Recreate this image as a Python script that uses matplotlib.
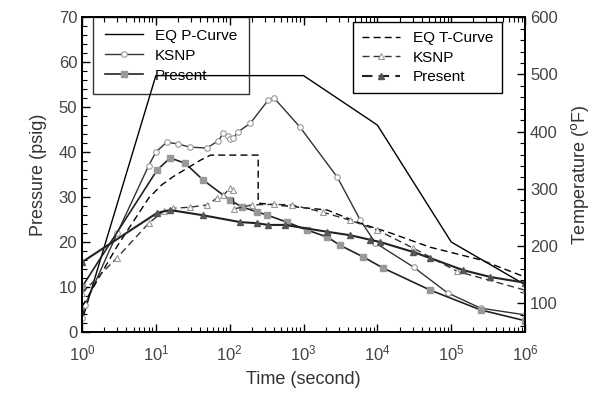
import matplotlib
matplotlib.use("Agg")
import matplotlib.pyplot as plt
from matplotlib.ticker import MultipleLocator, LogLocator, NullFormatter

plt.rcParams['font.family'] = ['Liberation Sans', 'DejaVu Sans']

# pressure curves (psig) vs time (s)
eq_p_t = [1, 10, 1000, 1e4, 1e5, 1e6]
eq_p = [2.5, 57, 57, 46, 20, 10.5]

ksnp_p_t = [1, 1.1, 3, 8, 10, 14, 20, 29, 49, 70, 82, 95, 101, 111, 130, 190, 330, 400,
            890, 2870, 5850, 9400, 31000, 89000, 2.5e5, 1e6]
ksnp_p = [3, 6, 22, 37, 40, 42.2, 41.8, 41.1, 40.9, 42.5, 44.2, 43.5, 42.8, 43.1, 44.5, 46.4,
          51.5, 52, 45.6, 34.4, 24.9, 19.8, 14.4, 8.7, 5.3, 3.8]

pres_p_t = [1, 10.4, 15.6, 25, 43.6, 101, 147, 235, 320, 600, 1100, 2100, 3100, 6400,
            12000, 52000, 2.5e5, 1e6]
pres_p = [10, 36, 38.7, 37.5, 33.8, 29.3, 27.8, 26.7, 26, 24.4, 22.7, 21.1, 19.3, 16.7,
          14.2, 9.3, 4.9, 2.5]

# temperature curves (F) vs time (s)
eq_t_t = [1, 3, 8, 12, 17, 40, 55, 243, 243, 500, 2100, 5800, 15000, 52000, 2.5e5, 1e6]
eq_t = [94, 200, 284, 307, 321, 350, 359, 359, 275, 271, 263, 240, 223, 198, 176, 146]

ksnp_t_t = [1, 3, 8, 13, 17, 29, 50, 67, 82, 101, 110, 115, 200, 400, 700, 1860, 4300,
            10000, 30000, 1.2e5, 1e6]
ksnp_t = [118, 180, 240, 262, 266, 268, 272, 284, 289, 301, 298, 265, 272, 273, 272, 259,
          245, 228, 197, 156, 123]

pres_t_t = [1, 10.4, 15.6, 43, 138, 235, 330, 560, 2100, 4300, 8000, 11000, 30000, 52000,
            1.45e5, 3.4e5, 1e6]
pres_t = [172, 258, 263, 254, 242, 240, 237, 237, 225, 219, 211, 207, 190, 179, 158, 146, 136]

fig = plt.figure(figsize=(6.12, 3.99), dpi=100)
ax = fig.add_axes([0.134, 0.168, 0.724, 0.789])
ax2 = ax.twinx()

# pressure
l1, = ax.plot(eq_p_t, eq_p, color='black', lw=1.0, label='EQ P-Curve')
l2, = ax.plot(ksnp_p_t, ksnp_p, color='#333333', lw=1.0, marker='o', ms=4,
              mfc='white', mec='#999999', mew=0.8, label='KSNP')
l3, = ax.plot(pres_p_t, pres_p, color='#222222', lw=1.2, marker='s', ms=4,
              mfc='#999999', mec='#999999', label='Present')

# temperature
t1, = ax2.plot(eq_t_t, eq_t, color='black', lw=1.0, ls=(0, (5, 3)), label='EQ T-Curve')
t2, = ax2.plot(ksnp_t_t, ksnp_t, color='#333333', lw=1.0, ls=(0, (5, 3)), marker='^', ms=4,
               mfc='white', mec='#999999', mew=0.8, label='KSNP')
t3, = ax2.plot(pres_t_t, pres_t, color='#222222', lw=1.5, ls='-', marker='^', ms=5,
               mfc='#555555', mec='#555555', label='Present')

ax.set_xscale('log')
ax.set_xlim(1, 1e6)
ax.set_ylim(0, 70)
ax2.set_ylim(50, 600)
ax2.set_yticks([100, 200, 300, 400, 500, 600])
ax.yaxis.set_minor_locator(MultipleLocator(2))
ax2.yaxis.set_minor_locator(MultipleLocator(20))
ax.xaxis.set_major_locator(LogLocator(base=10, numticks=10))
ax.xaxis.set_minor_locator(LogLocator(base=10, subs=range(2, 10), numticks=20))
ax.xaxis.set_minor_formatter(NullFormatter())

tc = '#444444'
ax.tick_params(axis='both', which='both', direction='in', top=True, right=False,
               labelsize=12, labelcolor=tc)
ax.tick_params(axis='x', pad=8)
ax.tick_params(which='major', length=6, width=1)
ax.tick_params(which='minor', length=3.5, width=0.8)
ax2.tick_params(axis='y', which='both', direction='in', labelsize=12, labelcolor=tc)
ax2.tick_params(which='major', length=6, width=1)
ax2.tick_params(which='minor', length=3.5, width=0.8)

for a in (ax, ax2):
    for s in a.spines.values():
        s.set_linewidth(1.3)

ax.set_xlabel('Time (second)', fontsize=13, color='#333333', labelpad=6)
ax.set_ylabel('Pressure (psig)', fontsize=13, color='#333333', labelpad=8)
ax2.set_ylabel('Temperature ($^{\\mathrm{o}}$F)', fontsize=13, color='#333333', labelpad=8)

leg1 = ax.legend(handles=[l1, l2, l3], loc='upper left', bbox_to_anchor=(0.025, 1.0),
                 borderaxespad=0, fontsize=11, handlelength=2.5, fancybox=False,
                 edgecolor='black', facecolor='none', borderpad=0.75, labelspacing=0.4)
leg1.get_frame().set_linewidth(1.0)
leg2 = ax2.legend(handles=[t1, t2, t3], loc='upper right', bbox_to_anchor=(0.948, 0.984),
                  borderaxespad=0, fontsize=11, handlelength=2.5, fancybox=False,
                  edgecolor='black', facecolor='white', framealpha=1, borderpad=0.6,
                  labelspacing=0.35)
leg2.get_frame().set_linewidth(1.0)
# right legend uses dashed line for Present too
leg2.get_lines()[2].set_linestyle((0, (5, 3)))

fig.savefig('out.png', dpi=100)
